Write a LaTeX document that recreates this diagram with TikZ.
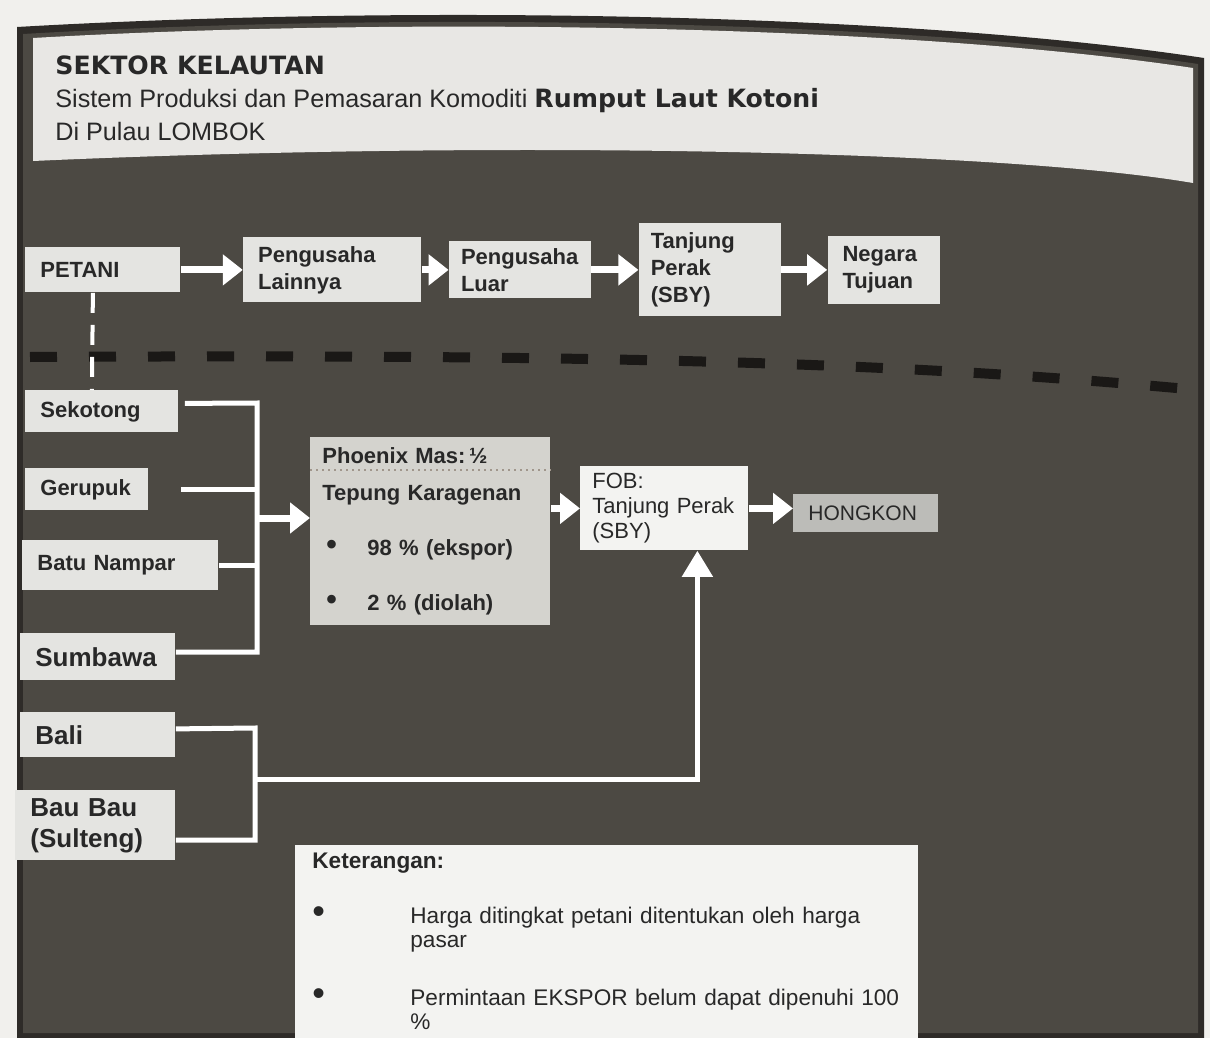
\documentclass[tikz,border=0pt]{standalone}
\usepackage{fontspec}
\setmainfont{Liberation Sans}
\newfontfamily\headbold{DejaVu Sans}
\usetikzlibrary{arrows.meta}
\usetikzlibrary{positioning}
\definecolor{kpage}  {RGB}{241,240,237}
\definecolor{kframe} {RGB}{46,43,40}
\definecolor{kpanel} {RGB}{76,73,67}
\definecolor{khead}  {RGB}{232,231,228}
\definecolor{kbox}   {RGB}{228,228,225}
\definecolor{kmas}   {RGB}{212,211,206}
\definecolor{kfob}   {RGB}{243,243,241}
\definecolor{khong}  {RGB}{188,188,184}
\definecolor{ktext}  {RGB}{40,40,40}
\definecolor{kdash}  {RGB}{26,24,22}
\definecolor{kdot}   {RGB}{160,150,140}

\newcommand{\kbullet}[3]{\hspace*{#1}\makebox[#2][l]{\raisebox{#3}{\fontsize{15}{12}\selectfont\textbullet}}}
\newcommand{\kbig}[1]{\makebox[#1][l]{\fontsize{18}{12}\selectfont\textbullet}}

\tikzset{
  box/.style={fill=kbox, text=ktext, anchor=north west,
              inner xsep=7.5pt, inner ysep=0pt, align=left,
              font=\fontsize{11}{13.5}\selectfont\bfseries},
  bigbox/.style={box, font=\fontsize{13}{15.5}\selectfont\bfseries},
  flow/.style={white, line width=3.5pt, -{Triangle[length=10pt,width=15pt]}},
  upflow/.style={white, line width=2.5pt, -{Triangle[length=13pt,width=15pt]}},
  joinline/.style={white, line width=2.5pt},
  petanidash/.style={white, line width=2pt, dash pattern=on 10pt off 6pt},
  zonedash/.style={kdash, line width=5pt, dash pattern=on 13.5pt off 16pt},
}

\begin{document}
\begin{tikzpicture}[x=0.5pt, y=-0.5pt]
  \useasboundingbox (0,0) rectangle (1210,1038);
  \clip (0,0) rectangle (1210,1038);

  % page and panel
  \fill[kpage] (0,0) rectangle (1210,1038);
  \fill[kframe] (17,27) .. controls (400,5) and (900,12) .. (1204,58)
    -- (1204,1038) -- (17,1038) -- cycle;
  \fill[kpanel] (23,34) .. controls (400,12) and (900,19) .. (1198,64)
    -- (1198,1033) -- (23,1033) -- cycle;

  % header
  \fill[khead] (33,38) .. controls (400,17) and (900,24) .. (1193,68)
    -- (1193,183) .. controls (1000,150) and (500,140) .. (33,161) -- cycle;
  \node (title)
    [anchor=north west, align=left, inner sep=0pt, text=ktext,
     font=\fontsize{12.6}{16.5}\selectfont]
    at (55,55)
    {{\headbold\bfseries SEKTOR KELAUTAN}\\
     Sistem Produksi dan Pemasaran Komoditi {\headbold\bfseries Rumput Laut Kotoni}\\
     Di Pulau LOMBOK};

  % upper chain
  \node (petani)
    [box, text width=62.5pt, minimum height=22.5pt]
    at (25,247) {PETANI};
  \node (lainnya)
    [box, right=31pt of petani,
     text width=74pt, minimum height=32.5pt]
    {Pengusaha\\Lainnya};
  \node (luar)
    [box, right=13.5pt of lainnya, inner xsep=6pt,
     text width=59pt, minimum height=28.5pt]
    {Pengusaha\\Luar};
  \node (tanjung)
    [box, right=23.5pt of luar, inner xsep=6pt,
     text width=59pt, minimum height=46.5pt]
    {Tanjung\\Perak\\(SBY)};
  \node (negara)
    [box, right=23pt of tanjung,
     text width=41pt, minimum height=34pt]
    {Negara\\Tujuan};

  % zone border
  \draw[zonedash] (30,357) .. controls (600,354) and (900,362) .. (1198,390);

  % producing areas
  \node (sekotong)
    [box, text width=61.5pt, minimum height=21pt]
    at (25,390) {Sekotong};
  \node (gerupuk)
    [box, text width=46.5pt, minimum height=21pt]
    at (25,468) {Gerupuk};
  \node (batu)
    [box, text width=83pt, minimum height=25pt]
    at (22,540) {Batu Nampar};
  \node (sumbawa)
    [bigbox, text width=62.5pt, minimum height=23.5pt]
    at (20,633) {Sumbawa};
  \node (bali)
    [bigbox, text width=62.5pt, minimum height=22.5pt]
    at (20,712) {Bali};
  \node (baubau)
    [bigbox, text width=65pt, minimum height=35pt]
    at (15,790) {Bau Bau\\(Sulteng)};

  % processing and export
  \node (mas)
    [box, fill=kmas, inner xsep=6pt,
     text width=108pt, minimum height=94pt]
    at (310,437)
    {Phoenix Mas:\,½\\[5pt]
     Tepung Karagenan\\[14pt]
     \kbullet{2pt}{20.5pt}{0.6pt}98 \% (ekspor)\\[14pt]
     \kbullet{2pt}{20.5pt}{0.6pt}2 \% (diolah)};
  \node (fob)
    [box, fill=kfob, inner xsep=6pt,
     text width=72pt, minimum height=42pt,
     font=\fontsize{11}{12.5}\selectfont]
    at (580,466)
    {FOB:\\Tanjung Perak\\(SBY)};
  \node (hongkon)
    [box, fill=khong, text width=57.5pt, minimum height=19pt,
     font=\fontsize{10.5}{12}\selectfont]
    at (793,494) {HONGKON};

  % notes
  \node (ket)
    [box, fill=kfob, inner xsep=8.5pt, inner ysep=4pt,
     text width=294.5pt,
     font=\fontsize{11.3}{12}\selectfont]
    at (295,845)
    {\textbf{Keterangan:}\\[15.5pt]
     \kbig{49pt}Harga ditingkat petani ditentukan oleh harga\\
     \hspace*{49pt}pasar\\[17pt]
     \kbig{49pt}Permintaan EKSPOR belum dapat dipenuhi 100\\
     \hspace*{49pt}\%};

  % junctions
  \coordinate (busA) at (257,403);
  \coordinate (busB) at (257,652);
  \coordinate (busM) at (257,518);
  \coordinate (busC) at (255,728);
  \coordinate (busD) at (255,840);
  \coordinate (busE) at (255,779);

  % edges
  \path[flow]
    (petani) edge (lainnya)
    (lainnya) edge (luar)
    (luar) edge (tanjung)
    (tanjung) edge (negara)
    ;
  \draw[petanidash] ([xshift=-5pt]petani.south) -- ([xshift=-5pt]sekotong.north);

  \draw[joinline] ([yshift=4pt,xshift=3pt]sekotong.east) -- (busA) -- (busB)
    -- (sumbawa.east |- busB);
  \draw[joinline] ([xshift=16pt]gerupuk.east) -- (gerupuk.east -| busA);
  \draw[joinline] (batu.east) -- (batu.east -| busA);
  \draw[flow] (busM) -- (busM -| mas.west);

  \draw[joinline] ([yshift=3pt]bali.east) -- (busC) -- (busD)
    -- (busD -| baubau.east);
  \draw[upflow] (busE) -| ([xshift=16.5pt]fob.south);

  \draw[kdot, dotted, line width=1pt]
    ([yshift=-16.5pt]mas.north west) -- ([yshift=-16.5pt]mas.north east);
  \draw[flow] (mas.east |- fob) -- (fob.west);
  \draw[flow] (fob.east) -- (fob.east -| hongkon.west);
\end{tikzpicture}
\end{document}
